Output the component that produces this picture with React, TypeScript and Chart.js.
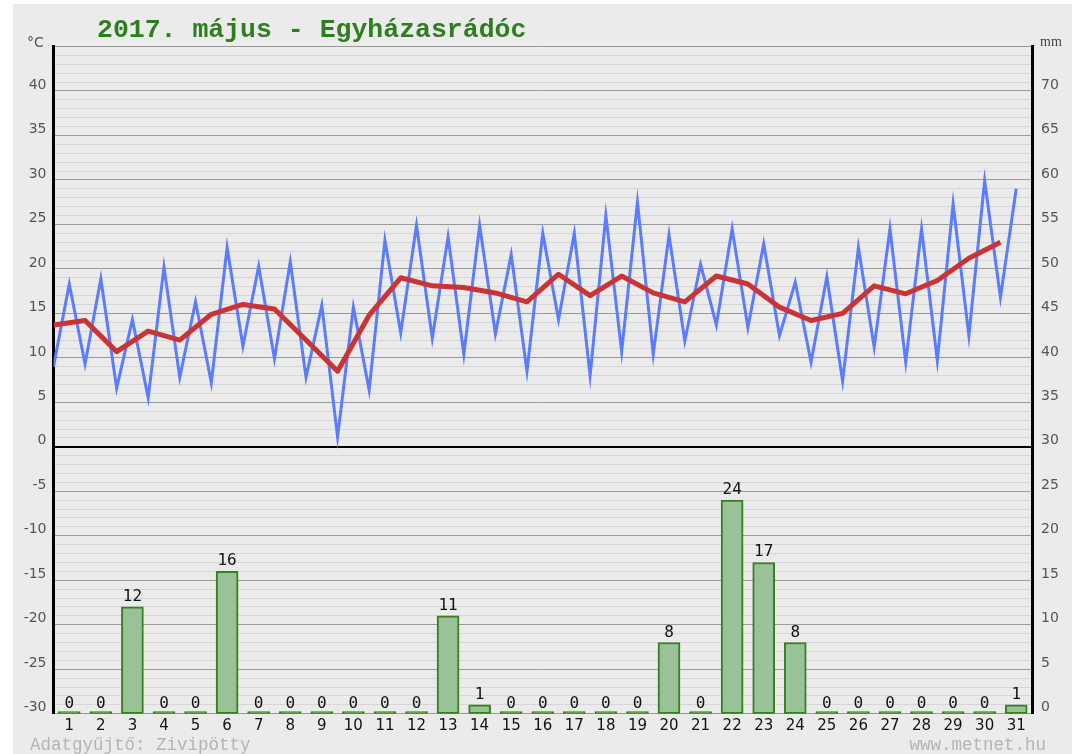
import React, { useEffect, useRef } from 'react';
import { Chart, registerables } from 'chart.js';

Chart.register(...registerables);

const TITLE = '2017. május - Egyházasrádóc';
const FOOTER_LEFT = 'Adatgyűjtő: Zivipötty';
const FOOTER_RIGHT = 'www.metnet.hu';

const days = Array.from({ length: 31 }, (_, i) => String(i + 1));

// alternating daily minimum / maximum temperature (°C)
const tempMinMax = [
  9.0, 18.3, 9.3, 18.9, 6.6, 14.3, 5.5, 20.2, 7.8, 16.3,
  7.2, 22.4, 11.3, 20.3, 9.9, 20.8, 7.8, 15.9, 1.1, 15.7,
  6.4, 23.2, 12.8, 24.9, 12.2, 23.6, 10.4, 24.9, 12.7, 21.6,
  8.5, 24.0, 14.3, 24.0, 8.0, 26.0, 10.7, 27.5, 10.4, 23.8,
  11.9, 20.5, 13.7, 24.5, 13.4, 22.8, 12.5, 18.5, 9.5, 19.1,
  7.4, 22.4, 11.2, 24.5, 9.5, 24.5, 9.7, 27.3, 12.5, 29.9,
  16.8, 29.0,
];

// daily mean temperature (°C)
const tempMean = [
  13.7, 14.2, 10.7, 13.0, 12.0, 14.9, 16.0, 15.5, 12.0, 8.5,
  14.8, 19.0, 18.1, 17.9, 17.3, 16.3, 19.4, 17.0, 19.2, 17.3,
  16.3, 19.2, 18.3, 15.7, 14.2, 15.0, 18.1, 17.2, 18.7, 21.2,
  23.0,
];

// daily precipitation (mm)
const precip = [
  0, 0, 12, 0, 0, 16, 0, 0, 0, 0,
  0, 0, 11, 1, 0, 0, 0, 0, 0, 8,
  0, 24, 17, 8, 0, 0, 0, 0, 0, 0,
  1,
];

const T_MIN = -30;
const T_MAX = 45;
const P_MIN = 0;
const P_MAX = 75;

export default function App() {
  const ref = useRef<HTMLCanvasElement | null>(null);

  useEffect(() => {
    if (!ref.current) return;

    const bgPlugin = {
      id: 'bg',
      beforeDraw(chart: any) {
        const c = chart.ctx;
        c.save();
        c.fillStyle = '#ffffff';
        c.fillRect(0, 0, chart.width, chart.height);
        c.fillStyle = '#ebebeb';
        c.fillRect(13, 4, 1059, 750);
        c.restore();
      },
      afterDraw(chart: any) {
        const c = chart.ctx;
        c.save();
        c.fillStyle = '#2e7d1e';
        c.font = 'bold 26.5px "Liberation Mono"';
        c.textAlign = 'left';
        c.textBaseline = 'alphabetic';
        c.fillText(TITLE, 97, 36.5);

        c.fillStyle = '#555555';
        c.font = '14px "DejaVu Sans"';
        c.fillText('°C', 27, 46.5);

        c.fillStyle = '#444444';
        c.font = '14px "Liberation Serif"';
        c.fillText('mm', 1040, 46);

        c.fillStyle = '#b4b4b4';
        c.font = '17.5px "Liberation Mono"';
        c.fillText(FOOTER_LEFT, 30, 750);
        c.textAlign = 'right';
        c.fillText(FOOTER_RIGHT, 1046, 750);
        c.restore();
      },
    };

    const barLabels = {
      id: 'barLabels',
      afterDatasetsDraw(chart: any) {
        const c = chart.ctx;
        const meta = chart.getDatasetMeta(2);
        const ys = chart.scales.y2;
        c.save();
        c.fillStyle = '#111111';
        c.font = '16px "DejaVu Sans Mono"';
        c.textAlign = 'center';
        c.textBaseline = 'alphabetic';
        meta.data.forEach((el: any, i: number) => {
          const v = precip[i];
          const y = ys.getPixelForValue(v) - 6;
          c.fillText(String(v), el.x, y);
        });
        c.restore();
      },
    };

    const chart = new Chart(ref.current, {
      type: 'bar',
      data: {
        labels: days,
        datasets: [
          {
            type: 'line',
            label: 'min/max',
            data: tempMinMax.map((v, i) => ({ x: i, y: v })),
            xAxisID: 'xl',
            yAxisID: 'y',
            borderColor: '#5b7cff',
            borderWidth: 3,
            pointRadius: 0,
            tension: 0,
            order: 1,
          } as any,
          {
            type: 'line',
            label: 'átlag',
            data: tempMean.map((v, i) => ({ x: i * 2, y: v })),
            xAxisID: 'xl',
            yAxisID: 'y',
            borderColor: '#c93434',
            borderWidth: 5,
            pointRadius: 0,
            tension: 0,
            borderJoinStyle: 'round',
            order: 0,
          } as any,
          {
            type: 'bar',
            label: 'csapadék',
            data: precip,
            xAxisID: 'x',
            yAxisID: 'y2',
            backgroundColor: (ctx: any) => (precip[ctx.dataIndex] === 0 ? '#4c8f2f' : '#99c299'),
            borderColor: '#38801f',
            borderWidth: 2,
            borderSkipped: false,
            minBarLength: 2,
            grouped: false,
            barThickness: 22,
            order: 2,
          } as any,
        ],
      },
      options: {
        responsive: false,
        animation: false,
        devicePixelRatio: 1,
        layout: { padding: { top: 46.5, left: 0, right: 0, bottom: 0 } },
        plugins: {
          legend: { display: false },
          tooltip: { enabled: false },
        },
        scales: {
          x: {
            type: 'category',
            position: 'bottom',
            offset: true,
            grid: { display: false, drawTicks: false },
            border: { display: false },
            ticks: {
              color: '#111111',
              font: { family: 'DejaVu Sans', size: 15 },
              padding: 3,
              autoSkip: false,
              maxRotation: 0,
            },
            afterFit(s: any) {
              s.height = 754 - 713.7;
            },
          },
          xl: {
            type: 'linear',
            display: false,
            offset: false,
            grace: 0,
            min: 0,
            max: 62,
          },
          y: {
            type: 'linear',
            position: 'left',
            min: T_MIN,
            max: T_MAX,
            ticks: {
              stepSize: 1,
              autoSkip: false,
              color: '#555555',
              font: { family: 'DejaVu Sans', size: 14 },
              padding: 7,
              labelOffset: -6,
              callback: (v: any) => (Number(v) % 5 === 0 && Number(v) !== T_MAX ? String(v) : ''),
            },
            grid: {
              drawTicks: false,
              color: (ctx: any) => {
                const v = ctx.tick ? ctx.tick.value : 1;
                if (v === 0) return '#000000';
                return v % 5 === 0 ? '#9a9a9a' : '#d6d6d6';
              },
              lineWidth: (ctx: any) => (ctx.tick && ctx.tick.value === 0 ? 2 : 1),
            },
            border: { display: true, color: '#000000', width: 3 },
            afterFit(s: any) {
              s.width = 53.5;
            },
          },
          y2: {
            type: 'linear',
            position: 'right',
            min: P_MIN,
            max: P_MAX,
            ticks: {
              stepSize: 5,
              autoSkip: false,
              color: '#555555',
              font: { family: 'DejaVu Sans', size: 14 },
              padding: 9,
              labelOffset: -6,
              callback: (v: any) => (Number(v) < P_MAX ? String(v) : ''),
            },
            grid: { display: false, drawTicks: false },
            border: { display: true, color: '#000000', width: 3 },
            afterFit(s: any) {
              s.width = 1077 - 1032;
            },
          },
        },
      } as any,
      plugins: [bgPlugin, barLabels],
    });

    return () => chart.destroy();
  }, []);

  return (
    <div style={{ position: 'absolute', left: 0, top: 0, width: 1077, height: 754 }}>
      <canvas ref={ref} width={1077} height={754} style={{ display: 'block' }} />
    </div>
  );
}
